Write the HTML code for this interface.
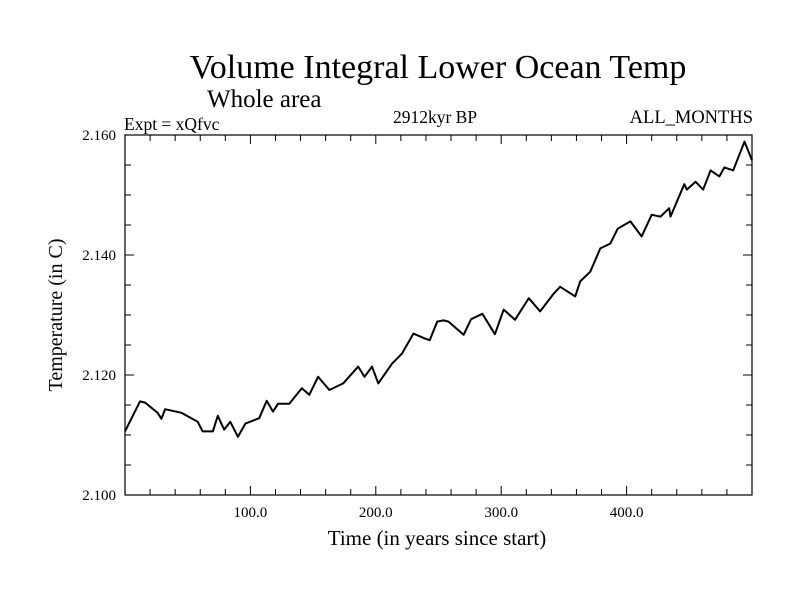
<!DOCTYPE html>
<html><head><meta charset="utf-8"><style>
body{margin:0;background:#fff}
svg text{font-family:"Liberation Serif",serif;fill:#000}
</style></head><body>
<svg id="chart" width="800" height="600">
<text x="438" y="78" font-size="34" text-anchor="middle">Volume Integral Lower Ocean Temp</text>
<text x="207" y="107" font-size="25">Whole area</text>
<text x="124" y="130" font-size="17.5">Expt = xQfvc</text>
<text x="435" y="123" font-size="17.5" text-anchor="middle">2912kyr BP</text>
<text x="753" y="123" font-size="18.5" text-anchor="end">ALL_MONTHS</text>
<text x="437" y="545" font-size="21" text-anchor="middle">Time (in years since start)</text>
<text transform="translate(62,315) rotate(-90)" font-size="20" text-anchor="middle">Temperature (in C)</text>
<g id="axes"></g>
<path id="line" fill="none" stroke="#000" stroke-width="2" stroke-linejoin="round"/>
<rect x="125" y="135" width="627" height="360" fill="none" stroke="#000" stroke-width="1.2"/>
</svg>
<script>
const years=[0,12,16,26,29,32,45,58,62,70,74,79,84,90,96,107,113,118,122,131,141,147,154,163,174,186,191,197,202,213,221,230,239,243,249,254,258,270,276,285,295,302,311,322,331,342,347,359,363,371,379,387,393,403,412,420,427,434,435,446,448,455,461,467,474,478,485,494,500];
const temps=[2.1106,2.1156,2.1154,2.1137,2.1127,2.1143,2.1137,2.1122,2.1106,2.1106,2.1132,2.1109,2.1122,2.1097,2.1119,2.1128,2.1157,2.1139,2.1152,2.1152,2.1178,2.1167,2.1197,2.1175,2.1186,2.1214,2.1197,2.1214,2.1186,2.1219,2.1236,2.1269,2.1261,2.1258,2.1289,2.1291,2.1289,2.1267,2.1293,2.1302,2.1268,2.1309,2.1292,2.1328,2.1306,2.1336,2.1347,2.1331,2.1356,2.1372,2.1411,2.1419,2.1444,2.1456,2.1431,2.1467,2.1464,2.1478,2.1464,2.1518,2.1509,2.1522,2.1509,2.1541,2.1531,2.1546,2.1541,2.1589,2.1558];
const xTickVals=[100,200,300,400];
const xTickLabels=["100.0","200.0","300.0","400.0"];
const yTickVals=[2.100,2.120,2.140,2.160];
const yTickLabels=["2.100","2.120","2.140","2.160"];
const L=125,R=752,T=135,B=495,X0=0,X1=500,Y0=2.100,Y1=2.160;
const sx=v=>L+(v-X0)/(X1-X0)*(R-L);
const sy=v=>B-(v-Y0)/(Y1-Y0)*(B-T);
const NS="http://www.w3.org/2000/svg";
const g=document.getElementById('axes');
function ln(x1,y1,x2,y2,name){const l=document.createElementNS(NS,'line');
l.setAttribute('x1',x1);l.setAttribute('y1',y1);l.setAttribute('x2',x2);l.setAttribute('y2',y2);
l.setAttribute('stroke','#000');l.setAttribute('stroke-width','1');


g.appendChild(l);}
function tx(x,y,s,anchor,name){const t=document.createElementNS(NS,'text');
t.setAttribute('x',x);t.setAttribute('y',y);t.setAttribute('font-size','15');t.setAttribute('text-anchor',anchor);t.textContent=s;


g.appendChild(t);}
for(let v=20;v<X1;v+=20){const x=sx(v);const maj=v%100===0;const len=maj?9:6;
ln(x,B,x,B-len,'x-tick');ln(x,T,x,T+len,'x-tick-top');}
for(let v=Y0+0.005;v<Y1-0.001;v+=0.005){const y=sy(v);const maj=Math.abs(Math.round(v*1000)%20)<1;const len=maj?9:6;
ln(L,y,L+len,y,'y-tick');ln(R,y,R-len,y,'y-tick-right');}
xTickVals.forEach((v,i)=>tx(sx(v),517,xTickLabels[i],'middle','x-tick-label'));
yTickVals.forEach((v,i)=>tx(116,sy(v)+5,yTickLabels[i],'end','y-tick-label'));
document.getElementById('line').setAttribute('d',years.map((y,i)=>(i?'L':'M')+sx(y).toFixed(1)+','+sy(temps[i]).toFixed(1)).join(''));
</script>
</body></html>
